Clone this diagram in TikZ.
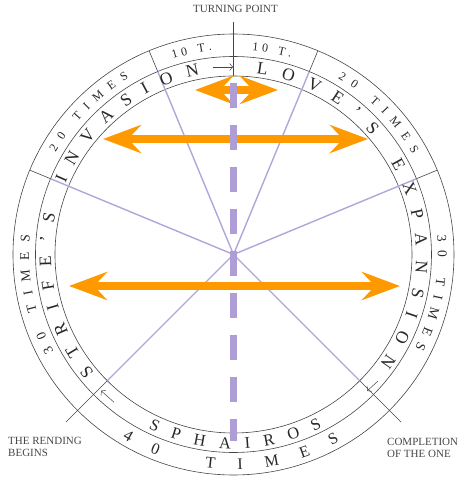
\documentclass[tikz,border=0pt]{standalone}
\usepackage{fontspec}
\setmainfont{Liberation Serif}
\usetikzlibrary{arrows.meta,decorations.text}
\definecolor{lilac}{RGB}{176,166,218}
\definecolor{tangerine}{RGB}{255,153,0}
\definecolor{ink}{RGB}{70,70,70}
\definecolor{type}{RGB}{40,40,40}
\tikzset{
  ring/.style={draw=ink,line width=0.6pt},
  spoke/.style={draw=lilac,line width=1.4pt},
  rim/.style={draw=ink,line width=0.6pt},
  swing/.style={draw=tangerine,line width=8pt,
    {Stealth[length=38pt,width=28pt,inset=13pt]}-{Stealth[length=38pt,width=28pt,inset=13pt]}},
  axis/.style={draw=lilac!95!violet,line width=6.5pt,dash pattern=on 25pt off 17pt},
  hint/.style={draw=ink,line width=0.5pt,-{Straight Barb[length=3pt,width=7pt]}},
  caption/.style={font=\fontsize{11}{12}\selectfont,text=ink,inner sep=0pt,align=left},
}
% size, radius, from, to, text
\newcommand{\ringtext}[5]{%
  \path[decorate,decoration={text along path,text color=type,text align=fit to path,
    text={|\fontsize{#1}{#1}\selectfont|#5}}] (#3:#2) arc[start angle=#3,end angle=#4,radius=#2];}

\begin{document}
\begin{tikzpicture}[x=1pt,y=1pt]
  \useasboundingbox (-233.5,-225.5) rectangle (227.5,254.5);
  % rings
  \foreach \r in {220.5,198,178.5} \draw[ring] (0,0) circle[radius=\r];
  % spokes and dividers
  \foreach \a in {112.5,157.5,67.5,22.5} {
    \draw[spoke] (0,0) -- (\a:198);
    \draw[rim] (\a:198) -- (\a:220.5);
  }
  \foreach \a in {225,315} {
    \draw[spoke] (0,0) -- (\a:178.5);
    \draw[rim] (\a:178.5) -- (\a:237);
  }
  \draw[rim] (90:178.5) -- (90:232.5);
  % swings
  \coordinate (l1) at (-38.5,164.5);  \coordinate (r1) at (44.5,164.5);
  \coordinate (l2) at (-130.5,115.5); \coordinate (r2) at (134.5,115.5);
  \coordinate (l3) at (-164.5,-31.5); \coordinate (r3) at (166.5,-31.5);
  \draw[swing] (l1) -- (r1);
  \draw[swing] (l2) -- (r2);
  \draw[swing] (l3) -- (r3);
  \coordinate (top) at (0,171.5); \coordinate (bot) at (0,-186.5);
  \draw[axis] (top) -- (bot);
  % words on the rings
  \ringtext{17.5}{182.5}{220.2}{100.7}{STRIFE'S INVASION}
  \ringtext{17.5}{182.5}{82.8}{-36.7}{LOVE'S EXPANSION}
  \ringtext{16.5}{194}{244}{297.2}{SPHAIROS}
  \ringtext{16}{215}{238.9}{299.5}{40 TIMES}
  \ringtext{12}{205}{150.2}{120.7}{20 TIMES}
  \ringtext{12}{205}{59.4}{29.2}{20 TIMES}
  \ringtext{12}{205}{107.2}{96}{10 T.}
  \ringtext{12}{205}{84.8}{73.8}{10 T.}
  \ringtext{13.5}{204.5}{208.4}{174.6}{30 TIMES}
  \ringtext{13.5}{204.5}{5.4}{-27.4}{30 TIMES}
  % little arrows
  \coordinate (t0) at (-20.5,187.5);  \coordinate (t1) at (-0.5,187.5);
  \coordinate (b0) at (231:190);      \coordinate (b1) at (225.8:190);
  \coordinate (c0) at (318.7:192);    \coordinate (c1) at (314.4:191);
  \draw[hint] (t0) -- (t1);
  \draw[hint] (b0) -- (b1);
  \draw[hint] (c0) -- (c1);
  % captions
  \node[caption,anchor=base] (turning) at (2,242) {TURNING POINT};
  \node[caption,anchor=north west] (rending) at (-225.5,-182.5) {THE RENDING\\BEGINS};
  \node[caption,anchor=north west] (completion) at (153.5,-183.5) {COMPLETION\\OF THE ONE};
\end{tikzpicture}
\end{document}
